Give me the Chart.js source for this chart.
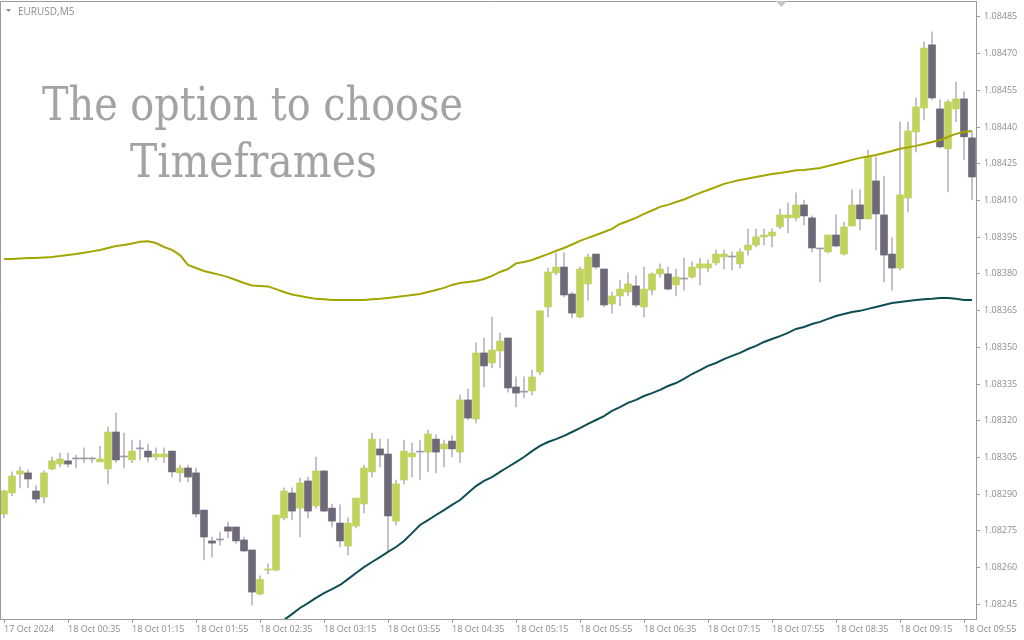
<!DOCTYPE html>
<html>
<head>
<meta charset="utf-8">
<script src="https://cdn.jsdelivr.net/npm/chart.js@4/dist/chart.umd.min.js"></script>
<style>
  body { margin: 0; background: #fff; }
  #wrap { position: relative; width: 1024px; height: 640px; }
  #chart { position: absolute; left: 0; top: 0; }
  #overlay { position: absolute; left: 0; top: 0; pointer-events: none; }
</style>
</head>
<body>
<div id="wrap">
  <canvas id="chart" width="1024" height="640"></canvas>
  <svg id="overlay" width="1024" height="640">
    <polygon points="6,9 11,9 8.5,12" fill="#8c8c8c"></polygon>
    <text x="18" y="15" font-family="Open Sans" font-size="10" fill="#8c8c8c">EURUSD,M5</text>
    <polygon points="776,1 787,1 781.5,7" fill="#c4c4c4"></polygon>
    <text x="252.5" y="120" text-anchor="middle" font-family="DejaVu Serif" font-size="47" fill="#a3a3a3"
      textLength="421" lengthAdjust="spacingAndGlyphs">The option to choose</text>
    <text x="253.5" y="177" text-anchor="middle" font-family="DejaVu Serif" font-size="47" fill="#a3a3a3"
      textLength="247" lengthAdjust="spacingAndGlyphs">Timeframes</text>
  </svg>
</div>
<script>
// EURUSD M5, 17 Oct 23:55 .. 18 Oct 10:00
const opens = [
  1.082819, 1.082905, 1.082982, 1.082987, 1.082913, 1.082888, 1.083003, 1.083023, 1.083036, 1.083044,
  1.083044, 1.083044, 1.083032, 1.083003, 1.083154, 1.083052, 1.083040, 1.083085, 1.083076, 1.083052,
  1.083052, 1.083076, 1.082987, 1.083007, 1.082987, 1.082835, 1.082709, 1.082713, 1.082766, 1.082766,
  1.082713, 1.082672, 1.082492, 1.082590, 1.082590, 1.082803, 1.082905, 1.082843, 1.082954, 1.082852,
  1.082995, 1.082843, 1.082782, 1.082688, 1.082770, 1.082860, 1.082991, 1.083085, 1.083064, 1.082790,
  1.082958, 1.083052, 1.083072, 1.083072, 1.083125, 1.083085, 1.083117, 1.083072, 1.083285, 1.083207,
  1.083477, 1.083436, 1.083485, 1.083538, 1.083338, 1.083317, 1.083322, 1.083399, 1.083665, 1.083804,
  1.083828, 1.083718, 1.083624, 1.083759, 1.083881, 1.083820, 1.083677, 1.083710, 1.083726, 1.083751,
  1.083665, 1.083734, 1.083800, 1.083800, 1.083755, 1.083779, 1.083787, 1.083824, 1.083824, 1.083845,
  1.083869, 1.083869, 1.083841, 1.083898, 1.083918, 1.083951, 1.083955, 1.083992, 1.084029, 1.084029,
  1.084082, 1.084029, 1.083902, 1.083890, 1.083959, 1.083881, 1.083996, 1.084082, 1.084025, 1.084180,
  1.084041, 1.083881, 1.083824, 1.084110, 1.084380, 1.084478, 1.084736, 1.084474, 1.084311, 1.084474,
  1.084515, 1.084356
];
const highs = [
  1.082917, 1.082991, 1.083011, 1.082999, 1.082934, 1.082995, 1.083052, 1.083068, 1.083068, 1.083060,
  1.083089, 1.083052, 1.083097, 1.083174, 1.083232, 1.083150, 1.083121, 1.083121, 1.083105, 1.083089,
  1.083089, 1.083076, 1.083019, 1.083019, 1.083007, 1.082835, 1.082725, 1.082745, 1.082786, 1.082766,
  1.082725, 1.082672, 1.082566, 1.082615, 1.082815, 1.082926, 1.082926, 1.082966, 1.082970, 1.083052,
  1.082995, 1.082860, 1.082856, 1.082803, 1.082884, 1.083019, 1.083150, 1.083125, 1.083125, 1.082958,
  1.083121, 1.083109, 1.083121, 1.083162, 1.083142, 1.083121, 1.083138, 1.083305, 1.083330, 1.083518,
  1.083538, 1.083624, 1.083559, 1.083538, 1.083379, 1.083379, 1.083407, 1.083649, 1.083824, 1.083886,
  1.083886, 1.083726, 1.083828, 1.083881, 1.083881, 1.083820, 1.083726, 1.083775, 1.083804, 1.083792,
  1.083828, 1.083804, 1.083841, 1.083828, 1.083820, 1.083865, 1.083849, 1.083865, 1.083857, 1.083898,
  1.083898, 1.083890, 1.083902, 1.083984, 1.083984, 1.083984, 1.083984, 1.084065, 1.084090, 1.084131,
  1.084102, 1.084037, 1.083902, 1.083959, 1.084041, 1.084012, 1.084143, 1.084143, 1.084306, 1.084278,
  1.084200, 1.083947, 1.084421, 1.084421, 1.084519, 1.084748, 1.084789, 1.084511, 1.084511, 1.084584,
  1.084544, 1.084380
];
const lows = [
  1.082803, 1.082893, 1.082926, 1.082926, 1.082864, 1.082864, 1.082999, 1.083011, 1.083011, 1.083007,
  1.083029, 1.083029, 1.083032, 1.082942, 1.083029, 1.083007, 1.083029, 1.083040, 1.083032, 1.083040,
  1.083029, 1.082970, 1.082950, 1.082950, 1.082807, 1.082631, 1.082643, 1.082692, 1.082721, 1.082700,
  1.082664, 1.082447, 1.082488, 1.082574, 1.082586, 1.082795, 1.082795, 1.082725, 1.082803, 1.082843,
  1.082827, 1.082766, 1.082684, 1.082651, 1.082762, 1.082823, 1.082970, 1.083011, 1.082664, 1.082774,
  1.082942, 1.082970, 1.082958, 1.082991, 1.082987, 1.083011, 1.083052, 1.083029, 1.083203, 1.083191,
  1.083338, 1.083416, 1.083416, 1.083317, 1.083256, 1.083293, 1.083305, 1.083387, 1.083624, 1.083796,
  1.083706, 1.083620, 1.083620, 1.083693, 1.083820, 1.083665, 1.083640, 1.083669, 1.083710, 1.083665,
  1.083624, 1.083714, 1.083787, 1.083734, 1.083710, 1.083734, 1.083783, 1.083755, 1.083808, 1.083837,
  1.083820, 1.083816, 1.083824, 1.083877, 1.083910, 1.083918, 1.083910, 1.083984, 1.083967, 1.084016,
  1.084000, 1.083890, 1.083767, 1.083886, 1.083910, 1.083877, 1.083996, 1.083980, 1.084025, 1.083898,
  1.083767, 1.083734, 1.083816, 1.084053, 1.084298, 1.084429, 1.084511, 1.084315, 1.084135, 1.084421,
  1.084266, 1.084102
];
const closes = [
  1.082913, 1.082974, 1.082995, 1.082962, 1.082880, 1.082987, 1.083036, 1.083044, 1.083023, 1.083044,
  1.083044, 1.083044, 1.083044, 1.083154, 1.083040, 1.083052, 1.083076, 1.083085, 1.083052, 1.083064,
  1.083064, 1.082991, 1.083007, 1.082970, 1.082819, 1.082725, 1.082700, 1.082713, 1.082749, 1.082709,
  1.082668, 1.082500, 1.082552, 1.082594, 1.082815, 1.082913, 1.082831, 1.082946, 1.082831, 1.082995,
  1.082831, 1.082790, 1.082709, 1.082782, 1.082884, 1.083007, 1.083125, 1.083060, 1.082811, 1.082942,
  1.083076, 1.083068, 1.083072, 1.083146, 1.083072, 1.083105, 1.083085, 1.083285, 1.083211, 1.083477,
  1.083424, 1.083489, 1.083526, 1.083334, 1.083313, 1.083317, 1.083379, 1.083649, 1.083808, 1.083828,
  1.083714, 1.083640, 1.083820, 1.083869, 1.083828, 1.083673, 1.083710, 1.083738, 1.083759, 1.083673,
  1.083738, 1.083800, 1.083820, 1.083738, 1.083787, 1.083779, 1.083828, 1.083841, 1.083841, 1.083881,
  1.083881, 1.083869, 1.083890, 1.083918, 1.083951, 1.083959, 1.083971, 1.084041, 1.084041, 1.084082,
  1.084037, 1.083906, 1.083902, 1.083959, 1.083914, 1.083992, 1.084082, 1.084025, 1.084278, 1.084045,
  1.083877, 1.083824, 1.084123, 1.084384, 1.084482, 1.084723, 1.084519, 1.084319, 1.084503, 1.084515,
  1.084360, 1.084196
];

// olive moving average
const maOlive = [
  1.083861, 1.083861, 1.083863, 1.083865, 1.083865, 1.083867, 1.083869, 1.083873, 1.083877, 1.083881,
  1.083886, 1.083892, 1.083898, 1.083906, 1.083914, 1.083918, 1.083924, 1.083931, 1.083933, 1.083926,
  1.083910, 1.083898, 1.083877, 1.083837, 1.083824, 1.083812, 1.083804, 1.083796, 1.083787, 1.083775,
  1.083763, 1.083753, 1.083751, 1.083749, 1.083738, 1.083726, 1.083716, 1.083710, 1.083704, 1.083698,
  1.083696, 1.083693, 1.083693, 1.083693, 1.083693, 1.083693, 1.083696, 1.083698, 1.083702, 1.083706,
  1.083710, 1.083714, 1.083718, 1.083726, 1.083734, 1.083743, 1.083755, 1.083763, 1.083767, 1.083771,
  1.083779, 1.083792, 1.083808, 1.083820, 1.083843, 1.083849, 1.083857, 1.083869, 1.083881, 1.083894,
  1.083906, 1.083920, 1.083935, 1.083947, 1.083959, 1.083971, 1.083984, 1.084004, 1.084016, 1.084029,
  1.084045, 1.084059, 1.084074, 1.084082, 1.084094, 1.084104, 1.084118, 1.084131, 1.084143, 1.084155,
  1.084168, 1.084176, 1.084184, 1.084190, 1.084196, 1.084202, 1.084208, 1.084212, 1.084217, 1.084223,
  1.084225, 1.084229, 1.084233, 1.084241, 1.084249, 1.084257, 1.084266, 1.084274, 1.084280, 1.084286,
  1.084294, 1.084302, 1.084311, 1.084317, 1.084323, 1.084331, 1.084339, 1.084347, 1.084360, 1.084372,
  1.084380, 1.084384
];

// teal moving average (starts below the visible range)
const maTeal = Array(34).fill(null).concat([
  1.082361, 1.082386, 1.082410, 1.082435, 1.082455, 1.082476,
  1.082496, 1.082512, 1.082529, 1.082553, 1.082578, 1.082602, 1.082623, 1.082643, 1.082664, 1.082684,
  1.082709, 1.082741, 1.082774, 1.082794, 1.082815, 1.082835, 1.082856, 1.082876, 1.082905, 1.082933,
  1.082954, 1.082970, 1.082991, 1.083011, 1.083031, 1.083052, 1.083076, 1.083097, 1.083113, 1.083125,
  1.083138, 1.083154, 1.083170, 1.083187, 1.083203, 1.083219, 1.083240, 1.083256, 1.083273, 1.083285,
  1.083301, 1.083313, 1.083326, 1.083342, 1.083354, 1.083371, 1.083391, 1.083407, 1.083424, 1.083436,
  1.083452, 1.083465, 1.083477, 1.083493, 1.083506, 1.083522, 1.083534, 1.083546, 1.083559, 1.083575,
  1.083583, 1.083595, 1.083604, 1.083616, 1.083628, 1.083636, 1.083644, 1.083649, 1.083657, 1.083665,
  1.083673, 1.083681, 1.083685, 1.083689, 1.083693, 1.083696, 1.083698, 1.083702, 1.083702, 1.083698,
  1.083693, 1.083693
]);

const xTickLabels = [
  "17 Oct 2024", "18 Oct 00:35", "18 Oct 01:15", "18 Oct 01:55", "18 Oct 02:35", "18 Oct 03:15",
  "18 Oct 03:55", "18 Oct 04:35", "18 Oct 05:15", "18 Oct 05:55", "18 Oct 06:35", "18 Oct 07:15",
  "18 Oct 07:55", "18 Oct 08:35", "18 Oct 09:15", "18 Oct 09:55"
];
const barsPerTick = 8;

const yTicks = [
  1.08245, 1.08260, 1.08275, 1.08290, 1.08305, 1.08320, 1.08335, 1.08350, 1.08365,
  1.08380, 1.08395, 1.08410, 1.08425, 1.08440, 1.08455, 1.08470, 1.08485
];
const yMin = 1.082390;
const yMax = 1.084915;

const BULL = "#c2d35d";
const BEAR = "#6f6878";
const WICK = "#b9b5c2";
const AXIS = "#9a9a9a";
const TEXT = "#8c8c8c";

const labels = opens.map((_, i) => i);
const bodies = opens.map((o, i) => [o, closes[i]]);
const wicks = lows.map((l, i) => [l, highs[i]]);
const bodyColors = opens.map((o, i) => (closes[i] > o ? BULL : closes[i] < o ? BEAR : "#9a96a3"));

const framePlugin = {
  id: "frame",
  afterDraw(chart) {
    const { ctx, chartArea: a } = chart;
    ctx.save();
    ctx.strokeStyle = AXIS;
    ctx.lineWidth = 1;
    ctx.beginPath();
    ctx.moveTo(a.left + 0.5, a.bottom);
    ctx.lineTo(a.left + 0.5, a.top + 0.5);
    ctx.lineTo(a.right, a.top + 0.5);
    ctx.stroke();
    ctx.restore();
  },
};

new Chart(document.getElementById("chart"), {
  data: {
    labels,
    datasets: [
      {
        type: "line",
        data: maOlive,
        borderColor: "#a3a600",
        borderWidth: 2,
        pointRadius: 0,
        order: 1,
      },
      {
        type: "line",
        data: maTeal,
        borderColor: "#0b4f52",
        borderWidth: 2,
        pointRadius: 0,
        order: 1,
      },
      {
        type: "bar",
        data: bodies,
        backgroundColor: bodyColors,
        barThickness: 7,
        minBarLength: 1,
        grouped: false,
        order: 2,
      },
      {
        type: "bar",
        data: wicks,
        backgroundColor: WICK,
        barThickness: 1,
        grouped: false,
        order: 3,
      },
    ],
  },
  options: {
    responsive: false,
    animation: false,
    events: [],
    devicePixelRatio: 1,
    layout: { padding: { top: 1, left: 0, right: 0, bottom: 0 } },
    plugins: { legend: { display: false }, tooltip: { enabled: false } },
    scales: {
      x: {
        type: "category",
        offset: true,
        grid: { display: true, drawOnChartArea: false, offset: false, tickLength: 4, color: AXIS },
        border: { display: true, color: AXIS },
        ticks: {
          autoSkip: false,
          maxRotation: 0,
          minRotation: 0,
          align: "start",
          padding: 1,
          color: TEXT,
          font: { family: "Open Sans", size: 9 },
          callback: (val, index) => (index % barsPerTick === 0 ? xTickLabels[index / barsPerTick] : null),
        },
        afterFit: (scale) => {
          scale.height = 21;
          scale.paddingLeft = 0;
          scale.paddingRight = 0;
        },
      },
      y: {
        type: "linear",
        position: "right",
        min: yMin,
        max: yMax,
        grid: { display: true, drawOnChartArea: false, tickLength: 4, color: AXIS },
        border: { display: true, color: AXIS },
        ticks: {
          padding: 4,
          color: TEXT,
          font: { family: "Open Sans", size: 9 },
          callback: (v) => Number(v).toFixed(5),
        },
        afterBuildTicks: (scale) => {
          scale.ticks = yTicks.map((v) => ({ value: v }));
        },
        afterFit: (scale) => {
          scale.width = 48;
          scale.paddingTop = 0;
          scale.paddingBottom = 0;
        },
      },
    },
  },
  plugins: [framePlugin],
});
</script>
</body>
</html>
